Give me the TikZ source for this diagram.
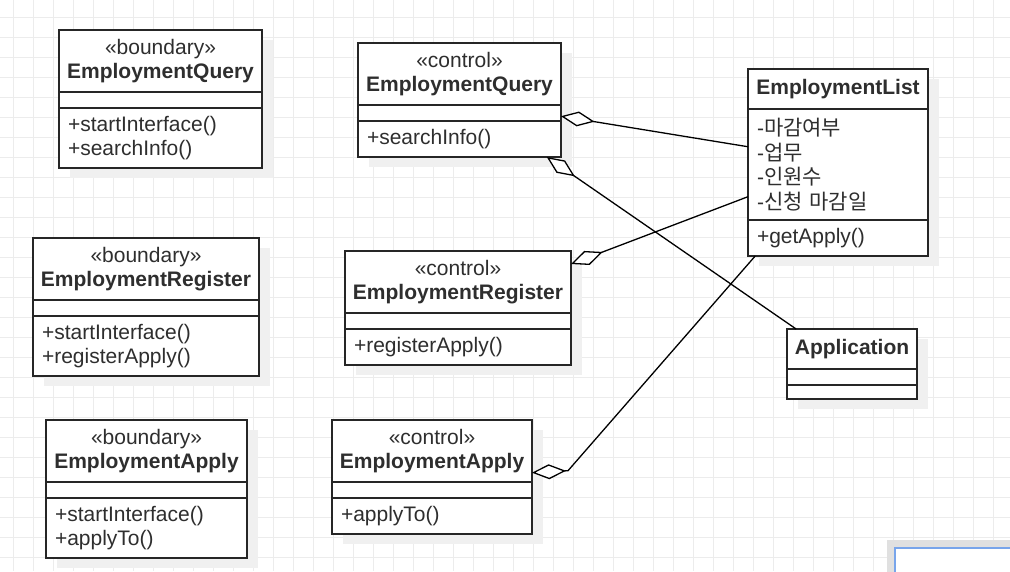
\documentclass[tikz,border=0pt]{standalone}
\usepackage{fontspec}
\setmainfont{Liberation Sans}
\newfontfamily\krfont{Noto Sans CJK KR}
\usetikzlibrary{arrows.meta,positioning,calc,shadows}
\definecolor{umlline}{gray}{0.15}
\definecolor{umltext}{gray}{0.18}
\definecolor{gridgray}{gray}{0.925}
\definecolor{shadowgray}{gray}{0.94}
\definecolor{framegray}{gray}{0.88}
\definecolor{selblue}{RGB}{120,165,235}
\newcommand{\umlsize}{\fontsize{21}{23.5}\selectfont}
\tikzset{
  classpart/.style={
    rectangle, draw=umlline, line width=1.6pt, fill=white,
    outer sep=0pt, inner sep=0pt, anchor=north west,
    text=umltext, font=\umlsize,
    drop shadow={shadow xshift=11pt, shadow yshift=-10pt,
      fill=shadowgray, opacity=1}
  },
  classhead/.style={classpart, align=center},
  classempty/.style={classpart},
  classlist/.style={classpart, align=left, inner xsep=9pt},
  gridline/.style={draw=gridgray, line width=0.8pt},
  agg/.style={line width=1.3pt, draw=black,
    arrows={Diamond[length=34pt, width=15pt, fill=white]-}}
}

\begin{document}
\begin{tikzpicture}[x=1pt, y=-1pt]

  \fill[white] (0,0) rectangle (1010,571);
  \useasboundingbox (0,0) rectangle (1010,571);
  \clip (0,0) rectangle (1010,571);

  % Background grid
  \foreach \gx in {13,33,...,1013}
    \draw[gridline] (\gx,0) -- (\gx,571);
  \foreach \gy in {17,37,...,577}
    \draw[gridline] (0,\gy) -- (1010,\gy);

  % Boundary classes
  \node[classhead, minimum width=203, minimum height=62] (bqhead) at (59,30)
    {«boundary»\\\textbf{EmploymentQuery}};
  \node[classempty, minimum width=203, minimum height=16] (bqattr) at (bqhead.south west) {};
  \node[classlist, text width=185pt, minimum height=60] (bqops) at (bqattr.south west)
    {+startInterface()\\+searchInfo()};

  \node[classhead, minimum width=226, minimum height=62] (brhead) at (33,238)
    {«boundary»\\\textbf{EmploymentRegister}};
  \node[classempty, minimum width=226, minimum height=16] (brattr) at (brhead.south west) {};
  \node[classlist, text width=208pt, minimum height=60] (brops) at (brattr.south west)
    {+startInterface()\\+registerApply()};

  \node[classhead, minimum width=201, minimum height=62] (bahead) at (46,420)
    {«boundary»\\\textbf{EmploymentApply}};
  \node[classempty, minimum width=201, minimum height=16] (baattr) at (bahead.south west) {};
  \node[classlist, text width=183pt, minimum height=60] (baops) at (baattr.south west)
    {+startInterface()\\+applyTo()};

  % Control classes
  \node[classhead, minimum width=203, minimum height=62] (cqhead) at (358,43)
    {«control»\\\textbf{EmploymentQuery}};
  \node[classempty, minimum width=203, minimum height=16] (cqattr) at (cqhead.south west) {};
  \node[classlist, text width=185pt, minimum height=36] (cqops) at (cqattr.south west)
    {+searchInfo()};

  \node[classhead, minimum width=226, minimum height=62] (crhead) at (345,251)
    {«control»\\\textbf{EmploymentRegister}};
  \node[classempty, minimum width=226, minimum height=16] (crattr) at (crhead.south west) {};
  \node[classlist, text width=208pt, minimum height=36] (crops) at (crattr.south west)
    {+registerApply()};

  \node[classhead, minimum width=200, minimum height=62] (cahead) at (332,420)
    {«control»\\\textbf{EmploymentApply}};
  \node[classempty, minimum width=200, minimum height=16] (caattr) at (cahead.south west) {};
  \node[classlist, text width=182pt, minimum height=36] (caops) at (caattr.south west)
    {+applyTo()};

  % Entity classes
  \node[classhead, minimum width=180, minimum height=40] (elhead) at (748,69)
    {\textbf{EmploymentList}};
  \node[classlist, text width=162pt, minimum height=111,
    font=\fontsize{21}{24.7}\selectfont] (elattr) at (elhead.south west)
    {-{\krfont 마감여부}\\-{\krfont 업무}\\-{\krfont 인원수}\\-{\krfont 신청 마감일}};
  \node[classlist, text width=162pt, minimum height=36] (elops) at (elattr.south west)
    {+getApply()};

  \node[classhead, minimum width=130, minimum height=40] (apphead) at (787,329)
    {\textbf{Application}};
  \node[classempty, minimum width=130, minimum height=16] (appattr) at (apphead.south west) {};
  \node[classempty, minimum width=130, minimum height=14] (appops) at (appattr.south west) {};

  % Aggregations
  \draw[agg] ($(cqattr.north east)!0.7!(cqattr.south east)$)
    -- ($(elattr.north west)!0.34!(elattr.south west)$);
  \draw[agg] ($(cqops.south west)!0.93!(cqops.south east)$)
    -- ($(apphead.north west)!0.07!(apphead.north east)$);
  \draw[agg] ($(crhead.north east)!0.21!(crhead.south east)$)
    -- ($(elattr.north west)!0.79!(elattr.south west)$);
  \draw[agg] ($(cahead.north east)!0.85!(cahead.south east)$) -- ++(36,-2)
    -- ($(elops.south west)!0.04!(elops.south east)$);

  % Panel corner at the bottom right
  \fill[framegray] (887,540) rectangle (1030,590);
  \draw[selblue, line width=1.2pt, fill=white] (895,548) rectangle (1030,590);

\end{tikzpicture}
\end{document}
